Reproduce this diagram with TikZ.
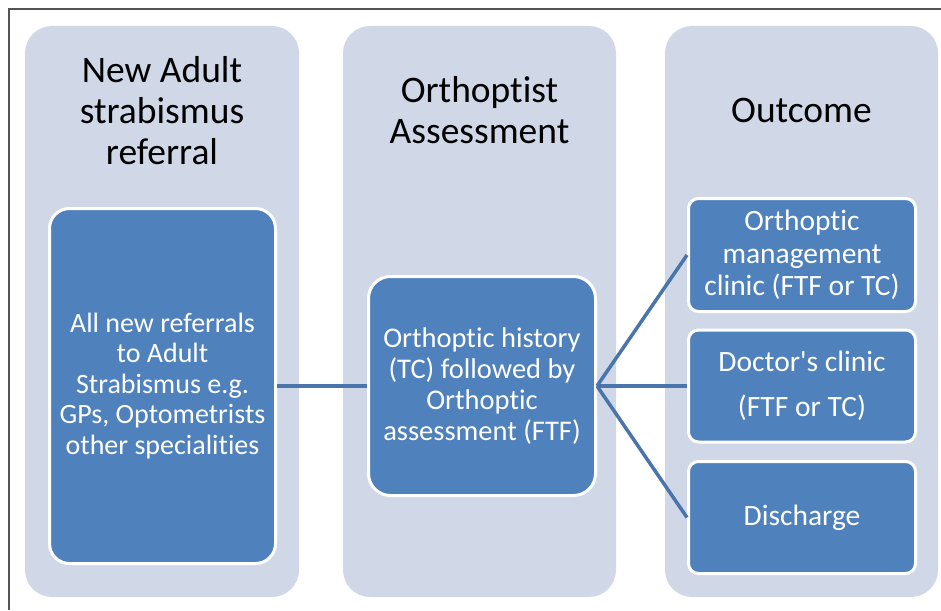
\documentclass[tikz,border=0pt]{standalone}
\usepackage{fontspec}
\setmainfont{Carlito}[Ligatures={TeXOff,NoCommon}]
\definecolor{colfill}{HTML}{D0D8E8}
\definecolor{boxfill}{HTML}{4F81BD}
\definecolor{linkcol}{HTML}{4A74AC}
\definecolor{framecol}{HTML}{555555}
\begin{document}
\begin{tikzpicture}[x=1pt,y=-1pt,
  column/.style={fill=colfill,draw=none,rounded corners=27pt,inner sep=0pt,minimum width=#1},
  column/.default=273pt,
  itembox/.style={fill=boxfill,draw=white,line width=3pt,text=white,align=center,inner sep=0pt,
    font=\fontsize{28}{30.5}\selectfont},
  titletext/.style={align=center,text=black,font=\fontsize{37.5}{41}\selectfont},
  link/.style={draw=linkcol,line width=3.5pt}]
\useasboundingbox (0,0) rectangle (941,610);
\draw[framecol,line width=1.5pt] (9,610) -- (9,9) -- (941,9);
% columns
\node[column=274pt,minimum height=571pt] (c1) at (162,311.5) {};
\node[column,minimum height=571pt] (c2) at (479.5,311.5) {};
\node[column,minimum height=571pt] (c3) at (801.5,311.5) {};
% titles
\node[titletext] (t1) at (162,111) {New Adult\\strabismus\\referral};
\node[titletext] (t2) at (479.5,110) {Orthoptist\\Assessment};
\node[titletext] (t3) at (801.5,110) {Outcome};
% boxes
\node[itembox,rounded corners=20pt,minimum width=226pt,minimum height=355pt] (b1) at (162.5,386)
  {All new referrals\\to Adult\\Strabismus e.g.\\GPs, Optometrists\\other specialities};
\node[itembox,rounded corners=22pt,minimum width=227pt,minimum height=219pt,
  font=\fontsize{28.5}{31}\selectfont] (b2) at (482,386)
  {Orthoptic history\\(TC) followed by\\Orthoptic\\assessment (FTF)};
\node[itembox,rounded corners=10pt,minimum width=227pt,minimum height=113pt,
  font=\fontsize{29.5}{32.5}\selectfont] (o1) at (802,255)
  {Orthoptic\\management\\clinic (FTF or TC)};
\node[itembox,rounded corners=10pt,minimum width=227pt,minimum height=112pt,
  font=\fontsize{29.5}{32.5}\selectfont] (o2) at (802,386)
  {Doctor's clinic\\[12pt](FTF or TC)};
\node[itembox,rounded corners=10pt,minimum width=227pt,minimum height=112pt,
  font=\fontsize{29.5}{32.5}\selectfont] (o3) at (802,517.5)
  {Discharge};
% connectors
\draw[link] (b1.east) -- (b2.west);
\draw[link] (b2.east) -- (o1.west);
\draw[link] (b2.east) -- (o2.west);
\draw[link] (b2.east) -- (o3.west);
\end{tikzpicture}
\end{document}
